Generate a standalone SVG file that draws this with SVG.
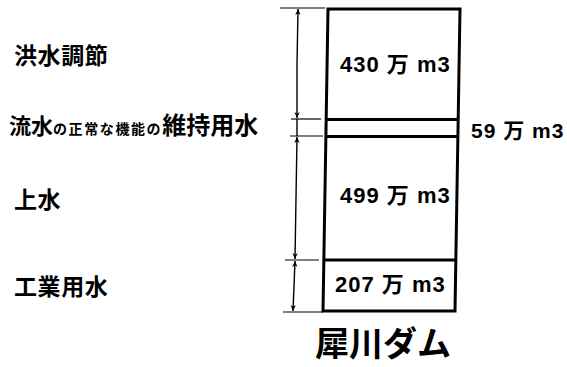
<svg xmlns="http://www.w3.org/2000/svg" width="567" height="367" viewBox="0 0 567 367">
<defs>
<style>
.jp{font-family:"Noto Sans CJK JP","Noto Sans CJK SC",sans-serif;font-weight:bold;fill:#000}
.num{font-family:"Liberation Sans","Noto Sans CJK JP",sans-serif;font-weight:bold;font-size:22px;letter-spacing:1px;fill:#000}
.box{fill:none;stroke:#000;stroke-width:3}
.dim{stroke:#000;stroke-width:1.4;fill:none}
.tick{stroke:#000;stroke-width:1.2}
</style>
<marker id="ah" viewBox="0 0 10 10" refX="10" refY="5" markerWidth="11" markerHeight="6" markerUnits="userSpaceOnUse" orient="auto">
<path d="M0,0.5 L10,5 L0,9.5 L3,5 Z" fill="#000"/>
</marker>
</defs>
<rect width="567" height="367" fill="#fff"/>

<g id="dam">
<polygon class="box" points="328,9 460,9 455,311 323,311"/>
<line class="box" x1="326" y1="119.5" x2="459" y2="119.5"/>
<line class="box" x1="326" y1="136.5" x2="458" y2="136.5"/>
<line class="box" x1="324" y1="260" x2="456" y2="260"/>
<text class="num" x="340" y="72">430 万 m3</text>
<text class="num" x="340" y="203">499 万 m3</text>
<text class="num" x="335" y="292">207 万 m3</text>
<text class="jp" x="315" y="356" font-size="34">犀川ダム</text>
</g>

<g id="label-flood"><text class="jp" x="14" y="64" font-size="23" letter-spacing="0.6">洪水調節</text></g>
<g id="label-maintenance"><text class="jp" x="9" y="134" font-size="22">流水<tspan font-size="14" letter-spacing="1.6">の正常な機能の</tspan><tspan font-size="24">維持用水</tspan></text>
<text class="num" x="471" y="138" letter-spacing="0.8" style="font-size:21px">59 万 m3</text></g>
<g id="label-water"><text class="jp" x="14" y="208" font-size="23" letter-spacing="0.6">上水</text></g>
<g id="label-industry"><text class="jp" x="14" y="295" font-size="23" letter-spacing="0.6">工業用水</text></g>

<g id="connectors">
<line class="tick" x1="280" y1="8" x2="325" y2="8"/>
<line class="tick" x1="291" y1="119" x2="321" y2="119"/>
<line class="tick" x1="290" y1="136" x2="323" y2="136"/>
<line class="tick" x1="285" y1="260" x2="319" y2="260"/>
<line class="tick" x1="283" y1="312" x2="323" y2="312"/>
<line class="dim" x1="297" y1="64" x2="298" y2="9" marker-end="url(#ah)"/>
<line class="dim" x1="297" y1="64" x2="297" y2="118" marker-end="url(#ah)"/>
<line class="dim" x1="297" y1="119" x2="297" y2="136"/>
<line class="dim" x1="296" y1="198" x2="297" y2="137" marker-end="url(#ah)"/>
<line class="dim" x1="296" y1="198" x2="295" y2="259" marker-end="url(#ah)"/>
<line class="dim" x1="294" y1="286" x2="295" y2="261" marker-end="url(#ah)"/>
<line class="dim" x1="294" y1="286" x2="293" y2="311" marker-end="url(#ah)"/>
</g>
</svg>
